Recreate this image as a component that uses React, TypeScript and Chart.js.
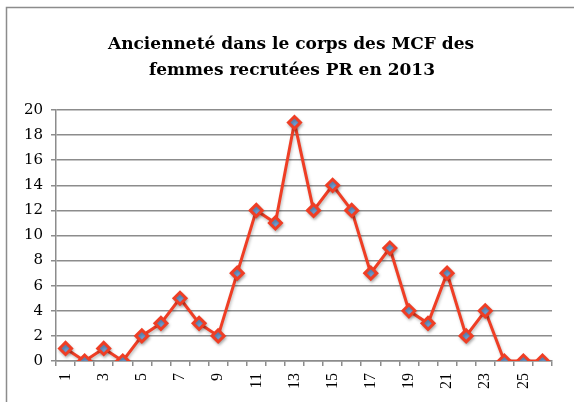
import React, { useEffect, useRef } from "react";
import { Chart, registerables } from "chart.js";

Chart.register(...registerables);

const categories: string[] = [
  "1", "2", "3", "4", "5", "6", "7", "8", "9", "10", "11", "12", "13",
  "14", "15", "16", "17", "18", "19", "20", "21", "22", "23", "24", "25", "26",
];
const values: number[] = [1, 0, 1, 0, 2, 3, 5, 3, 2, 7, 12, 11, 19, 12, 14, 12, 7, 9, 4, 3, 7, 2, 4, 0, 0, 0];
const titleLines: string[] = ["Ancienneté dans le corps des MCF des", "femmes recrutées PR en 2013"];
const yMin = 0;
const yMax = 20;
const yStep = 2;

const SERIF = "'DejaVu Serif', 'Liberation Serif', serif";
const TSERIF = "'Liberation Serif', serif";

const framePlugin = {
  id: "frameAndTitle",
  beforeDraw(chart: any) {
    const ctx = chart.ctx;
    ctx.save();
    ctx.fillStyle = "#ffffff";
    ctx.fillRect(0, 0, chart.width, chart.height);
    ctx.strokeStyle = "#8c8c8c";
    ctx.lineWidth = 1.5;
    ctx.beginPath();
    ctx.moveTo(6.5, chart.height);
    ctx.lineTo(6.5, 7.5);
    ctx.lineTo(chart.width, 7.5);
    ctx.stroke();
    ctx.fillStyle = "#000000";
    ctx.font = "bold 17px " + SERIF;
    ctx.textAlign = "center";
    ctx.textBaseline = "alphabetic";
    ctx.fillText(titleLines[0], 291, 49);
    ctx.fillText(titleLines[1], 292, 75);
    ctx.restore();
  },
};

const shadowPlugin = {
  id: "lineShadow",
  beforeDatasetDraw(chart: any) {
    const ctx = chart.ctx;
    ctx.save();
    ctx.shadowColor = "rgba(0,0,0,0.25)";
    ctx.shadowBlur = 3;
    ctx.shadowOffsetX = 1;
    ctx.shadowOffsetY = 2;
  },
  afterDatasetDraw(chart: any) {
    chart.ctx.restore();
  },
};

export default function App() {
  const ref = useRef<HTMLCanvasElement | null>(null);
  useEffect(() => {
    document.body.style.margin = "0";
    const canvas = ref.current;
    if (!canvas) return;
    const chart = new Chart(canvas, {
      type: "line",
      data: {
        labels: categories,
        datasets: [
          {
            data: values,
            borderColor: "#ef3e25",
            borderWidth: 3,
            pointStyle: "rectRot",
            pointRadius: 6,
            pointBorderWidth: 3,
            pointBackgroundColor: "#6f9fd4",
            pointBorderColor: "#ef3e25",
            tension: 0,
            fill: false,
          },
        ],
      },
      options: {
        animation: false,
        responsive: false,
        maintainAspectRatio: false,
        layout: { padding: { top: 110, right: 22, bottom: 0, left: 0 } },
        plugins: {
          legend: { display: false },
          title: { display: false },
          tooltip: { enabled: false },
        },
        scales: {
          x: {
            type: "category",
            offset: true,
            afterFit(scale: any) {
              scale.height = 41;
            },
            grid: {
              offset: true,
              drawOnChartArea: false,
              drawTicks: true,
              tickLength: 5,
              color: "#8c8c8c",
              lineWidth: 1.5,
            },
            border: { display: true, color: "#8c8c8c", width: 1.5 },
            ticks: {
              autoSkip: false,
              minRotation: 90,
              maxRotation: 90,
              padding: 7,
              color: "#000000",
              font: { family: TSERIF, size: 16 },
              callback: (_v: any, i: number) => (i % 2 === 0 ? categories[i] : ""),
            },
          },
          y: {
            min: yMin,
            max: yMax,
            afterFit(scale: any) {
              scale.width = 56;
            },
            grid: {
              color: "#8c8c8c",
              lineWidth: 1.5,
              drawTicks: true,
              tickLength: 5,
            },
            border: { display: true, color: "#8c8c8c", width: 1.5 },
            ticks: {
              stepSize: yStep,
              padding: 8,
              color: "#000000",
              font: { family: SERIF, size: 15 },
            },
          },
        },
      },
      plugins: [framePlugin, shadowPlugin],
    });
    return () => chart.destroy();
  }, []);
  return (
    <div style={{ position: "absolute", left: 0, top: 0, width: 574, height: 402 }}>
      <canvas ref={ref} width={574} height={402} style={{ width: 574, height: 402 }} />
    </div>
  );
}
